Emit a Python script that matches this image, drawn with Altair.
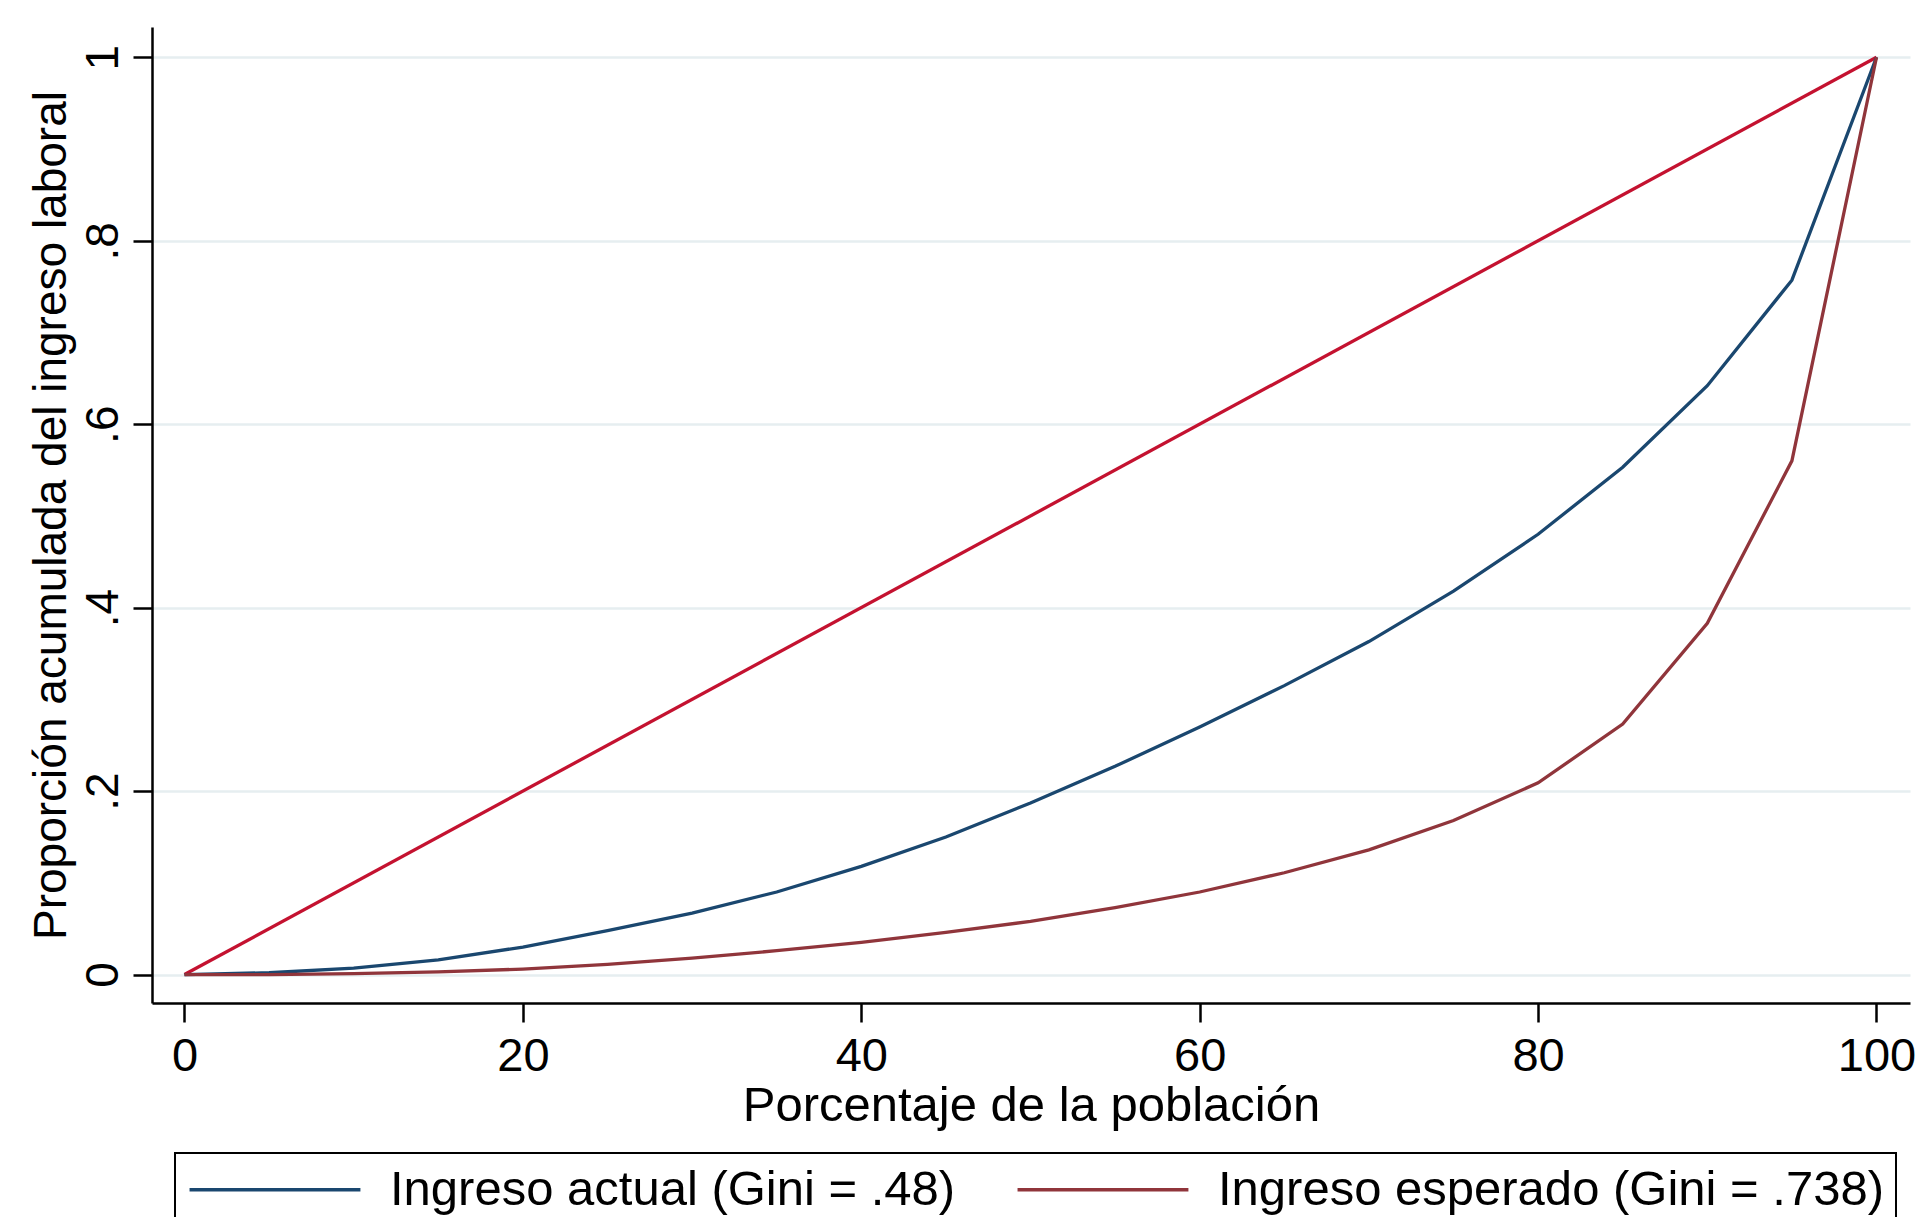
import altair as alt
import pandas as pd

# ---- data ----
pct = [0, 5, 10, 15, 20, 25, 30, 35, 40, 45, 50, 55, 60, 65, 70, 75, 80, 85, 90, 95, 100]
ingreso_actual = [0.0, 0.002, 0.007, 0.016, 0.030, 0.048, 0.067, 0.090, 0.118, 0.150, 0.187,
                  0.227, 0.270, 0.315, 0.363, 0.418, 0.480, 0.553, 0.642, 0.757, 1.0]
ingreso_esperado = [0.0, 0.0, 0.001, 0.003, 0.006, 0.011, 0.018, 0.026, 0.035, 0.046, 0.058,
                    0.073, 0.090, 0.111, 0.136, 0.168, 0.209, 0.273, 0.383, 0.560, 1.0]
series_names = ["Ingreso actual (Gini = .48)", "Ingreso esperado (Gini = .738)"]
series_colors = ["#1a476f", "#90353b"]
equality_x = [0, 100]
equality_y = [0, 1]
x_ticks = [0, 20, 40, 60, 80, 100]
y_ticks = [0, 0.2, 0.4, 0.6, 0.8, 1]

df = pd.DataFrame({
    "pct": pct + pct,
    "share": ingreso_actual + ingreso_esperado,
    "serie": [series_names[0]] * len(pct) + [series_names[1]] * len(pct),
})
eq = pd.DataFrame({"pct": equality_x, "share": equality_y})

FONT = "Liberation Sans"

x_enc = alt.X(
    "pct:Q",
    scale=alt.Scale(domain=[-1.92, 101.98], nice=False, zero=False),
    axis=alt.Axis(
        values=x_ticks, format="d", grid=False,
        title="Porcentaje de la población",
        labelFontSize=47, titleFontSize=49,
        labelPadding=11, titlePadding=2,
    ),
)
y_enc = alt.Y(
    "share:Q",
    scale=alt.Scale(domain=[-0.031, 1.033], nice=False, zero=False),
    axis=alt.Axis(
        values=y_ticks, grid=True,
        labelExpr="replace(format(datum.value, '.1~f'), regexp('^0[.]'), '.')",
        title="Proporción acumulada del ingreso laboral",
        labelAngle=270, labelAlign="center", labelBaseline="alphabetic",
        labelFontSize=46, titleFontSize=46,
        labelPadding=16, titlePadding=5,
        gridColor="#E6EEF0", gridWidth=2.5,
    ),
)

equality = alt.Chart(eq).mark_line(color="#C41230", strokeWidth=3.3).encode(
    x=x_enc, y=y_enc
)

curves = alt.Chart(df).mark_line(strokeWidth=3.3).encode(
    x=x_enc,
    y=y_enc,
    color=alt.Color(
        "serie:N",
        scale=alt.Scale(domain=series_names, range=series_colors),
        legend=alt.Legend(
            orient="none", legendX=23, legendY=1126,
            direction="horizontal", columns=2, title=None,
            symbolType="M-2.57,0H17.43", symbolSize=292, symbolStrokeWidth=3.3,
            labelFontSize=49, labelFont=FONT, labelColor="black",
            labelLimit=1000, labelOffset=154, columnPadding=54,
        ),
    ),
    order=alt.Order("pct:Q"),
)

chart = (
    alt.layer(equality, curves)
    .properties(
        width=1758, height=976,
        autosize=alt.AutoSizeParams(type="none"),
        padding={"left": 144, "top": 19, "right": 5, "bottom": 214},
        background="white",
    )
    .configure_view(stroke="transparent")
    .configure_axis(
        labelFont=FONT, titleFont=FONT,
        labelColor="black", titleColor="black",
        titleFontWeight="normal",
        domainColor="black", domainWidth=2.5,
        tickColor="black", tickWidth=2.5, tickSize=19,
    )
    .configure_legend(
        strokeColor="black", strokeWidth=2, padding=12,
    )
)

chart.save("out.html", embed_options={"renderer": "svg", "actions": False})
